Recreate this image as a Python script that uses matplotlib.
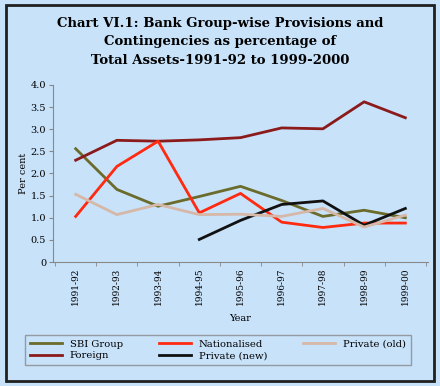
import matplotlib
matplotlib.use('Agg')
import matplotlib.pyplot as plt
from matplotlib.patches import Rectangle

years = ['1991-92', '1992-93', '1993-94', '1994-95', '1995-96',
         '1996-97', '1997-98', '1998-99', '1999-00']
sbi = [2.56, 1.64, 1.26, 1.48, 1.71, 1.39, 1.03, 1.17, 1.00]
foreign = [2.30, 2.75, 2.73, 2.76, 2.81, 3.03, 3.01, 3.62, 3.26]
nationalised = [1.03, 2.16, 2.73, 1.11, 1.55, 0.90, 0.78, 0.88, 0.88]
private_old = [1.53, 1.07, 1.30, 1.07, 1.08, 1.03, 1.21, 0.79, 1.06]
private_new = [None, None, None, 0.51, 0.94, 1.30, 1.38, 0.83, 1.21]

bg = '#c8e2fa'
plt.rcParams['font.family'] = ['DejaVu Serif']

fig = plt.figure(figsize=(4.4, 3.86), dpi=100, facecolor=bg)
fig.patches.append(Rectangle((6 / 440, 5 / 386), 428 / 440, 376 / 386,
                             transform=fig.transFigure, fill=False,
                             edgecolor='#202020', linewidth=2))

fig.text(0.5, 1 - 24 / 386, 'Chart VI.1: Bank Group-wise Provisions and',
         ha='center', va='center', fontsize=9.5, fontweight='bold')
fig.text(0.5, 1 - 42 / 386, 'Contingencies as percentage of',
         ha='center', va='center', fontsize=9.5, fontweight='bold')
fig.text(0.5, 1 - 60 / 386, 'Total Assets-1991-92 to 1999-2000',
         ha='center', va='center', fontsize=9.5, fontweight='bold')

ax = fig.add_axes([53 / 440, 1 - 262 / 386, 375 / 440, 177 / 386])
ax.set_facecolor(bg)
x = list(range(len(years)))

ax.plot(x, sbi, color='#6b6b2b', lw=2, label='SBI Group')
ax.plot(x, foreign, color='#8b1a1a', lw=2, label='Foreign')
ax.plot(x, nationalised, color='#ff2a10', lw=2, label='Nationalised')
xn = [i for i, v in zip(x, private_new) if v is not None]
yn = [v for v in private_new if v is not None]
ax.plot(xn, yn, color='#111111', lw=2, label='Private (new)')
ax.plot(x, private_old, color='#d6b8a8', lw=2, label='Private (old)')

ax.set_xlim(-0.55, 8.55)
ax.set_ylim(0, 4.0)
ax.set_yticks([0, 0.5, 1.0, 1.5, 2.0, 2.5, 3.0, 3.5, 4.0])
ax.set_yticklabels(['0', '0.5', '1.0', '1.5', '2.0', '2.5', '3.0', '3.5', '4.0'],
                   fontsize=7)
ax.set_xticks(x)
ax.set_xticklabels(years, rotation=90, fontsize=6.5)
ax.set_xticks([i + 0.5 for i in range(-1, 9)], minor=True)
ax.tick_params(axis='x', which='major', length=0, pad=4)
ax.tick_params(axis='x', which='minor', length=3, color='#888888')
ax.tick_params(axis='y', length=3, color='#888888', pad=2)
for s in ['top', 'right']:
    ax.spines[s].set_visible(False)
for s in ['left', 'bottom']:
    ax.spines[s].set_color('#888888')
ax.set_xlabel('Year', fontsize=7, labelpad=6)
ax.set_ylabel('Per cent', fontsize=7, labelpad=2)

handles, labels = ax.get_legend_handles_labels()
leg = fig.legend(handles, labels, ncol=3, loc='center',
                 bbox_to_anchor=(218 / 440, 1 - 350 / 386), fontsize=7.2,
                 frameon=True, facecolor=bg, edgecolor='#888888',
                 handlelength=3.2, columnspacing=3.6, labelspacing=0.25,
                 borderpad=0.45, borderaxespad=0, fancybox=False)

fig.savefig('out.png', dpi=100, facecolor=bg)
